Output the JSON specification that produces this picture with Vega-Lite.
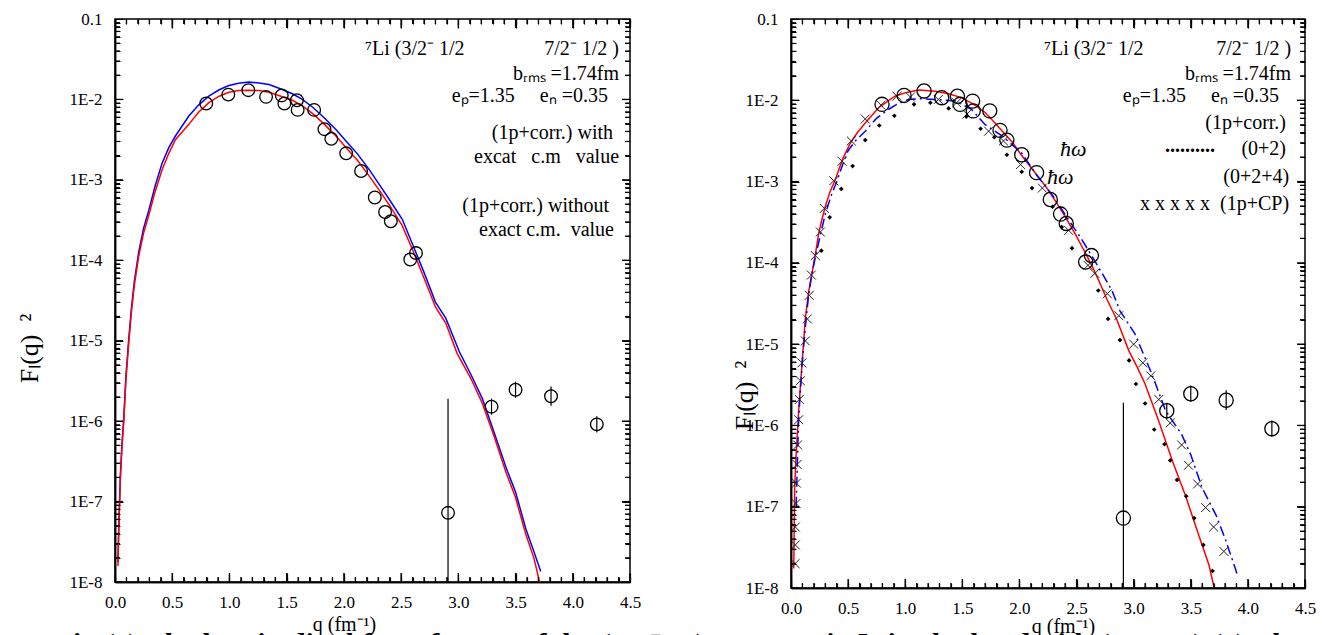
{
  "$schema": "https://vega.github.io/schema/vega-lite/v6.json",
  "padding": {"left": 15, "top": 9, "right": 0, "bottom": 0},
  "background": "white",
  "spacing": 161,
  "bounds": "flush",
  "config": {
    "view": {"stroke": "black", "strokeWidth": 1.5}
  },
  "title": {"text": "Fig.(4) The longitudinal form factors of the (7/2⁻1/2)\u00a0\u00a0\u00a0\u00a0\u00a0\u00a0\u00a0\u00a0\u00a0\u00a0\u00a0\u00a0\u00a0\u00a0\u00a0\u00a0in ⁷Li calculated with (1p+CP) (a) The", "orient": "bottom", "anchor": "start", "font": "Liberation Serif", "fontSize": 30, "fontStyle": "italic", "fontWeight": "bold", "color": "black", "offset": -7, "dx": 36, "baseline": "top"},
  "datasets": {
    "xMajor": [{"v":0},{"v":0.5},{"v":1},{"v":1.5},{"v":2},{"v":2.5},{"v":3},{"v":3.5},{"v":4},{"v":4.5}],
    "xMinor": [{"v":0.1},{"v":0.2},{"v":0.3},{"v":0.4},{"v":0.6},{"v":0.7},{"v":0.8},{"v":0.9},{"v":1.1},{"v":1.2},{"v":1.3},{"v":1.4},{"v":1.6},{"v":1.7},{"v":1.8},{"v":1.9},{"v":2.1},{"v":2.2},{"v":2.3},{"v":2.4},{"v":2.6},{"v":2.7},{"v":2.8},{"v":2.9},{"v":3.1},{"v":3.2},{"v":3.3},{"v":3.4},{"v":3.6},{"v":3.7},{"v":3.8},{"v":3.9},{"v":4.1},{"v":4.2},{"v":4.3},{"v":4.4}],
    "yMajor": [{"v":1e-8},{"v":1e-7},{"v":1e-6},{"v":1e-5},{"v":0.0001},{"v":0.001},{"v":0.01},{"v":0.1}],
    "yMinor": [{"v":2e-8},{"v":3e-8},{"v":4e-8},{"v":5e-8},{"v":6e-8},{"v":7e-8},{"v":8e-8},{"v":9e-8},{"v":2e-7},{"v":3e-7},{"v":4e-7},{"v":5e-7},{"v":6e-7},{"v":7e-7},{"v":8e-7},{"v":9e-7},{"v":2e-6},{"v":3e-6},{"v":4e-6},{"v":5e-6},{"v":6e-6},{"v":7e-6},{"v":8e-6},{"v":9e-6},{"v":2e-5},{"v":3e-5},{"v":4e-5},{"v":5e-5},{"v":6e-5},{"v":7e-5},{"v":8e-5},{"v":9e-5},{"v":0.0002},{"v":0.0003},{"v":0.0004},{"v":0.0005},{"v":0.0006},{"v":0.0007},{"v":0.0008},{"v":0.0009},{"v":0.002},{"v":0.003},{"v":0.004},{"v":0.005},{"v":0.006},{"v":0.007},{"v":0.008},{"v":0.009},{"v":0.02},{"v":0.03},{"v":0.04},{"v":0.05},{"v":0.06},{"v":0.07},{"v":0.08},{"v":0.09}],
    "leftBlue": [
      {"q":0.026,"F":1.778e-8},{"q":0.032,"F":4.571e-8},{"q":0.047,"F":2.138e-7},{"q":0.06,"F":5.012e-7},{"q":0.076,"F":1.072e-6},{"q":0.095,"F":3.548e-6},{"q":0.12,"F":1.047e-5},{"q":0.143,"F":2.512e-5},{"q":0.17,"F":5.623e-5},{"q":0.207,"F":1.259e-4},{"q":0.25,"F":2.512e-4},{"q":0.295,"F":4.169e-4},{"q":0.35,"F":8.318e-4},{"q":0.41,"F":1.585e-3},{"q":0.47,"F":2.512e-3},{"q":0.528,"F":3.508e-3},{"q":0.645,"F":6.209e-3},{"q":0.73,"F":8.511e-3},{"q":0.82,"F":1.096e-2},{"q":0.91,"F":1.318e-2},{"q":0.995,"F":1.489e-2},{"q":1.08,"F":1.585e-2},{"q":1.17,"F":1.641e-2},{"q":1.26,"F":1.603e-2},{"q":1.346,"F":1.531e-2},{"q":1.45,"F":1.349e-2},{"q":1.55,"F":1.175e-2},{"q":1.637,"F":1.0e-2},{"q":1.73,"F":7.943e-3},{"q":1.83,"F":5.888e-3},{"q":1.93,"F":4.236e-3},{"q":2.02,"F":3.020e-3},{"q":2.12,"F":2.089e-3},{"q":2.22,"F":1.349e-3},{"q":2.31,"F":8.710e-4},{"q":2.40,"F":5.623e-4},{"q":2.51,"F":3.236e-4},{"q":2.60,"F":1.585e-4},{"q":2.70,"F":7.079e-5},{"q":2.80,"F":3.020e-5},{"q":2.89,"F":1.905e-5},{"q":3.01,"F":7.244e-6},{"q":3.11,"F":3.802e-6},{"q":3.21,"F":1.905e-6},{"q":3.31,"F":7.413e-7},{"q":3.42,"F":2.570e-7},{"q":3.50,"F":1.318e-7},{"q":3.59,"F":4.571e-8},{"q":3.66,"F":2.399e-8},{"q":3.72,"F":1.349e-8}
    ],
    "leftRed": [
      {"q":0.026,"F":1.585e-8},{"q":0.032,"F":3.981e-8},{"q":0.047,"F":1.905e-7},{"q":0.06,"F":4.467e-7},{"q":0.076,"F":9.550e-7},{"q":0.095,"F":3.162e-6},{"q":0.12,"F":9.333e-6},{"q":0.143,"F":2.239e-5},{"q":0.17,"F":5.012e-5},{"q":0.207,"F":1.122e-4},{"q":0.25,"F":2.188e-4},{"q":0.295,"F":3.631e-4},{"q":0.35,"F":7.079e-4},{"q":0.41,"F":1.318e-3},{"q":0.47,"F":2.138e-3},{"q":0.528,"F":3.162e-3},{"q":0.645,"F":4.898e-3},{"q":0.73,"F":6.918e-3},{"q":0.82,"F":9.120e-3},{"q":0.91,"F":1.096e-2},{"q":0.995,"F":1.230e-2},{"q":1.08,"F":1.288e-2},{"q":1.17,"F":1.303e-2},{"q":1.26,"F":1.288e-2},{"q":1.346,"F":1.230e-2},{"q":1.45,"F":1.096e-2},{"q":1.55,"F":9.772e-3},{"q":1.637,"F":8.318e-3},{"q":1.73,"F":6.607e-3},{"q":1.83,"F":4.898e-3},{"q":1.93,"F":3.508e-3},{"q":2.02,"F":2.512e-3},{"q":2.12,"F":1.738e-3},{"q":2.22,"F":1.122e-3},{"q":2.31,"F":7.413e-4},{"q":2.40,"F":4.786e-4},{"q":2.51,"F":2.692e-4},{"q":2.60,"F":1.349e-4},{"q":2.70,"F":6.026e-5},{"q":2.80,"F":2.630e-5},{"q":2.89,"F":1.660e-5},{"q":2.99,"F":6.918e-6},{"q":3.11,"F":3.388e-6},{"q":3.21,"F":1.660e-6},{"q":3.31,"F":6.607e-7},{"q":3.42,"F":2.239e-7},{"q":3.50,"F":1.122e-7},{"q":3.59,"F":3.890e-8},{"q":3.66,"F":1.995e-8},{"q":3.71,"F":1.0e-8}
    ],
    "expt": [
      {"q":0.797,"F":8.913e-3},{"q":0.99,"F":1.148e-2},{"q":1.165,"F":1.303e-2},{"q":1.32,"F":1.076e-2},{"q":1.457,"F":1.122e-2},{"q":1.48,"F":8.913e-3},{"q":1.59,"F":9.772e-3},{"q":1.596,"F":7.413e-3},{"q":1.74,"F":7.413e-3},{"q":1.83,"F":4.266e-3},{"q":1.89,"F":3.236e-3},{"q":2.02,"F":2.138e-3},{"q":2.15,"F":1.288e-3},{"q":2.27,"F":6.026e-4},{"q":2.36,"F":3.981e-4},{"q":2.41,"F":3.055e-4},{"q":2.58,"F":1.023e-4},{"q":2.63,"F":1.230e-4},{"q":2.91,"F":7.244e-8},{"q":3.29,"F":1.514e-6},{"q":3.50,"F":2.455e-6},{"q":3.81,"F":2.042e-6},{"q":4.21,"F":9.120e-7}
    ],
    "errbars": [
      {"q":2.91,"lo":1e-8,"hi":1.9e-6},{"q":3.29,"lo":1.202e-6,"hi":1.906e-6},{"q":3.50,"lo":1.949e-6,"hi":3.091e-6},{"q":3.81,"lo":1.55e-6,"hi":2.70e-6},{"q":4.21,"lo":7.24e-7,"hi":1.148e-6}
    ],
    "rightRed": [
      {"q":0.024,"F":1.738e-8},{"q":0.028,"F":5.012e-8},{"q":0.032,"F":1.698e-7},{"q":0.045,"F":4.467e-7},{"q":0.067,"F":1.514e-6},{"q":0.096,"F":5.623e-6},{"q":0.125,"F":2.042e-5},{"q":0.155,"F":4.467e-5},{"q":0.184,"F":7.413e-5},{"q":0.215,"F":1.318e-4},{"q":0.242,"F":2.291e-4},{"q":0.27,"F":3.388e-4},{"q":0.30,"F":4.898e-4},{"q":0.34,"F":7.413e-4},{"q":0.387,"F":1.047e-3},{"q":0.45,"F":1.862e-3},{"q":0.52,"F":2.985e-3},{"q":0.58,"F":3.981e-3},{"q":0.65,"F":5.248e-3},{"q":0.768,"F":8.128e-3},{"q":0.91,"F":1.122e-2},{"q":1.02,"F":1.259e-2},{"q":1.12,"F":1.337e-2},{"q":1.264,"F":1.288e-2},{"q":1.38,"F":1.202e-2},{"q":1.497,"F":1.072e-2},{"q":1.60,"F":8.913e-3},{"q":1.70,"F":7.079e-3},{"q":1.78,"F":5.370e-3},{"q":1.85,"F":4.169e-3},{"q":1.94,"F":3.020e-3},{"q":2.02,"F":2.089e-3},{"q":2.12,"F":1.380e-3},{"q":2.23,"F":8.710e-4},{"q":2.32,"F":5.623e-4},{"q":2.40,"F":3.715e-4},{"q":2.49,"F":2.239e-4},{"q":2.58,"F":1.303e-4},{"q":2.65,"F":8.318e-5},{"q":2.72,"F":5.012e-5},{"q":2.77,"F":3.467e-5},{"q":2.85,"F":2.042e-5},{"q":2.957,"F":8.318e-6},{"q":3.03,"F":5.248e-6},{"q":3.10,"F":3.236e-6},{"q":3.22,"F":1.122e-6},{"q":3.34,"F":3.631e-7},{"q":3.45,"F":1.413e-7},{"q":3.57,"F":4.467e-8},{"q":3.66,"F":1.905e-8},{"q":3.70,"F":1.072e-8}
    ],
    "rightBlue": [
      {"q":0.045,"F":1.0e-7},{"q":0.055,"F":3.162e-7},{"q":0.065,"F":1.0e-6},{"q":0.08,"F":2.512e-6},{"q":0.10,"F":6.310e-6},{"q":0.125,"F":1.585e-5},{"q":0.15,"F":3.548e-5},{"q":0.18,"F":7.079e-5},{"q":0.21,"F":1.122e-4},{"q":0.25,"F":1.995e-4},{"q":0.30,"F":3.981e-4},{"q":0.35,"F":6.607e-4},{"q":0.40,"F":1.0e-3},{"q":0.45,"F":1.585e-3},{"q":0.50,"F":2.399e-3},{"q":0.563,"F":3.162e-3},{"q":0.65,"F":4.169e-3},{"q":0.75,"F":6.026e-3},{"q":0.855,"F":7.762e-3},{"q":0.94,"F":9.120e-3},{"q":1.03,"F":1.023e-2},{"q":1.15,"F":1.047e-2},{"q":1.264,"F":1.023e-2},{"q":1.44,"F":9.772e-3},{"q":1.58,"F":7.762e-3},{"q":1.70,"F":5.012e-3},{"q":1.85,"F":3.631e-3},{"q":2.02,"F":2.239e-3},{"q":2.14,"F":1.259e-3},{"q":2.29,"F":6.761e-4},{"q":2.43,"F":3.388e-4},{"q":2.54,"F":1.995e-4},{"q":2.64,"F":1.175e-4},{"q":2.72,"F":7.586e-5},{"q":2.81,"F":4.571e-5},{"q":2.88,"F":2.570e-5},{"q":3.01,"F":1.349e-5},{"q":3.16,"F":4.266e-6},{"q":3.28,"F":1.514e-6},{"q":3.42,"F":7.762e-7},{"q":3.50,"F":4.365e-7},{"q":3.60,"F":1.698e-7},{"q":3.72,"F":7.943e-8},{"q":3.80,"F":4.074e-8},{"q":3.89,"F":1.738e-8},{"q":3.91,"F":1.413e-8}
    ],
    "rightDots": [
      {"q":0.266,"F":1.413e-4},{"q":0.339,"F":3.631e-4},{"q":0.44,"F":8.128e-4},{"q":0.54,"F":1.549e-3},{"q":0.65,"F":3.236e-3},{"q":0.773,"F":4.898e-3},{"q":0.905,"F":6.457e-3},{"q":1.077,"F":8.913e-3},{"q":1.22,"F":9.333e-3},{"q":1.38,"F":7.943e-3},{"q":1.535,"F":6.310e-3},{"q":1.66,"F":4.467e-3},{"q":1.78,"F":3.508e-3},{"q":1.89,"F":2.138e-3},{"q":2.02,"F":1.318e-3},{"q":2.11,"F":8.318e-4},{"q":2.29,"F":4.898e-4},{"q":2.37,"F":2.754e-4},{"q":2.46,"F":1.514e-4},{"q":2.69,"F":4.571e-5},{"q":2.776,"F":2.042e-5},{"q":2.88,"F":1.122e-5},{"q":2.96,"F":6.310e-6},{"q":3.02,"F":3.236e-6},{"q":3.10,"F":1.862e-6},{"q":3.18,"F":8.913e-7},{"q":3.27,"F":5.888e-7},{"q":3.32,"F":3.715e-7},{"q":3.38,"F":2.138e-7},{"q":3.46,"F":1.349e-7},{"q":3.53,"F":7.244e-8},{"q":3.61,"F":3.388e-8},{"q":3.69,"F":1.622e-8}
    ],
    "rightX": [
      {"q":0.036,"F":1.995e-8},{"q":0.038,"F":3.388e-8},{"q":0.038,"F":5.623e-8},{"q":0.044,"F":1.096e-7},{"q":0.047,"F":1.950e-7},{"q":0.053,"F":3.311e-7},{"q":0.058,"F":5.754e-7},{"q":0.067,"F":1.175e-6},{"q":0.073,"F":2.089e-6},{"q":0.082,"F":3.548e-6},{"q":0.096,"F":5.888e-6},{"q":0.125,"F":1.096e-5},{"q":0.143,"F":2.042e-5},{"q":0.16,"F":3.981e-5},{"q":0.178,"F":7.079e-5},{"q":0.213,"F":1.230e-4},{"q":0.257,"F":2.399e-4},{"q":0.292,"F":4.677e-4},{"q":0.374,"F":1.023e-3},{"q":0.447,"F":1.778e-3},{"q":0.528,"F":3.162e-3},{"q":0.65,"F":5.888e-3},{"q":0.788,"F":8.710e-3},{"q":0.928,"F":1.122e-2},{"q":1.045,"F":1.096e-2},{"q":1.29,"F":1.023e-2},{"q":1.45,"F":9.333e-3},{"q":1.54,"F":6.761e-3},{"q":1.73,"F":4.169e-3},{"q":1.86,"F":3.162e-3},{"q":2.01,"F":1.622e-3},{"q":2.20,"F":8.318e-4},{"q":2.43,"F":2.512e-4},{"q":2.60,"F":9.333e-5},{"q":2.66,"F":7.413e-5},{"q":2.77,"F":4.169e-5},{"q":2.87,"F":2.239e-5},{"q":3.0,"F":1.0e-5},{"q":3.08,"F":5.888e-6},{"q":3.15,"F":4.074e-6},{"q":3.22,"F":2.089e-6},{"q":3.32,"F":1.072e-6},{"q":3.42,"F":5.754e-7},{"q":3.48,"F":3.236e-7},{"q":3.56,"F":1.905e-7},{"q":3.63,"F":9.772e-8},{"q":3.70,"F":5.623e-8},{"q":3.79,"F":2.818e-8}
    ]
  },
  "hconcat": [
    {
      "width": 515,
      "height": 563,
      "layer": [
        {
          "data": {"name": "leftBlue"},
          "mark": {"type": "line", "color": "#0000ff", "strokeWidth": 1.5},
          "encoding": {
            "x": {"field": "q", "type": "quantitative", "scale": {"domain": [0, 4.5], "nice": false, "zero": false},
              "axis": {"orient": "bottom", "values": [0,0.1,0.2,0.3,0.4,0.5,0.6,0.7,0.8,0.9,1,1.1,1.2,1.3,1.4,1.5,1.6,1.7,1.8,1.9,2,2.1,2.2,2.3,2.4,2.5,2.6,2.7,2.8,2.9,3,3.1,3.2,3.3,3.4,3.5,3.6,3.7,3.8,3.9,4,4.1,4.2,4.3,4.4,4.5],
                "labelExpr": "abs(datum.value*2-round(datum.value*2))<0.01 ? format(datum.value,'.1f') : ''",
                "labelOverlap": false, "labelFlush": false, "labelBound": false, "labelFont": "Liberation Sans Narrow", "labelFontSize": 17, "labelColor": "black", "labelPadding": 12,
                "domainColor": "black", "domainWidth": 1.5, "ticks": false, "grid": true, "gridColor": "black", "gridWidth": 1.2, "gridOpacity": 1, "gridDash": [5, 553],
                "title": "q (fm⁻¹)", "titleFont": "Liberation Serif", "titleFontSize": 20, "titleFontWeight": "normal", "titleColor": "black", "titleX": 229, "titleY": 48, "titleBaseline": "alphabetic", "titleAngle": 0}},
            "y": {"field": "F", "type": "quantitative", "scale": {"type": "log", "domain": [1e-8, 0.1], "nice": false},
              "axis": {"orient": "left", "values": [1e-8,2e-8,3e-8,4e-8,5e-8,6e-8,7e-8,8e-8,9e-8,1e-7,2e-7,3e-7,4e-7,5e-7,6e-7,7e-7,8e-7,9e-7,1e-6,2e-6,3e-6,4e-6,5e-6,6e-6,7e-6,8e-6,9e-6,1e-5,2e-5,3e-5,4e-5,5e-5,6e-5,7e-5,8e-5,9e-5,0.0001,0.0002,0.0003,0.0004,0.0005,0.0006,0.0007,0.0008,0.0009,0.001,0.002,0.003,0.004,0.005,0.006,0.007,0.008,0.009,0.01,0.02,0.03,0.04,0.05,0.06,0.07,0.08,0.09,0.1],
                "labelExpr": "abs(log(datum.value)/LN10-round(log(datum.value)/LN10))<0.001 ? (datum.value > 0.05 ? '0.1' : '1E' + round(log(datum.value)/LN10)) : ''",
                "labelOverlap": false, "labelFlush": false, "labelBound": false, "labelFont": "Liberation Sans Narrow", "labelFontSize": 17, "labelColor": "black", "labelPadding": 13,
                "domainColor": "black", "domainWidth": 1.5, "ticks": false, "grid": true, "gridColor": "black", "gridWidth": 1.2, "gridOpacity": 1, "gridDash": [5, 505],
                "title": "Fₗ(q)\u00a0\u00a0²", "titleFont": "Liberation Serif", "titleFontSize": 26, "titleFontWeight": "normal", "titleColor": "black", "titleX": -86, "titleY": 329, "titleBaseline": "middle", "titleAngle": 270}}
          }
        },
        {
          "data": {"name": "leftRed"},
          "mark": {"type": "line", "color": "#ff0000", "strokeWidth": 1.5},
          "encoding": {"x": {"field": "q", "type": "quantitative", "axis": null}, "y": {"field": "F", "type": "quantitative", "axis": null}}
        },
        {
          "data": {"name": "errbars"},
          "mark": {"type": "rule", "color": "black", "strokeWidth": 1.2},
          "encoding": {"x": {"field": "q", "type": "quantitative", "axis": null}, "y": {"field": "lo", "type": "quantitative", "axis": null}, "y2": {"field": "hi"}}
        },
        {
          "data": {"name": "expt"},
          "mark": {"type": "point", "shape": "circle", "filled": false, "color": "black", "strokeWidth": 1.3, "size": 160, "opacity": 1},
          "encoding": {"x": {"field": "q", "type": "quantitative", "axis": null}, "y": {"field": "F", "type": "quantitative", "axis": null}}
        },
        {
          "data": {"values": [{"q": 2.185, "F": 4.236e-2, "t": "⁷Li (3/2⁻ 1/2"}]},
          "mark": {"type": "text", "align": "left", "baseline": "middle", "font": "Liberation Serif", "fontSize": 20, "color": "black"},
          "encoding": {"x": {"field": "q", "type": "quantitative", "axis": null}, "y": {"field": "F", "type": "quantitative", "axis": null}, "text": {"field": "t"}}
        },
        {
          "data": {"values": [
            {"q": 4.404, "F": 4.236e-2, "t": "7/2⁻ 1/2 )"},
            {"q": 4.404, "F": 2.070e-2, "t": "bᵣₘₛ =1.74fm"},
            {"q": 4.308, "F": 1.104e-2, "t": "eₚ=1.35\u00a0\u00a0\u00a0\u00a0\u00a0eₙ =0.35"},
            {"q": 4.352, "F": 3.828e-3, "t": "(1p+corr.) with"},
            {"q": 4.404, "F": 1.923e-3, "t": "excat\u00a0\u00a0\u00a0c.m\u00a0\u00a0\u00a0value"},
            {"q": 4.317, "F": 4.73e-4, "t": "(1p+corr.) without"},
            {"q": 4.36, "F": 2.382e-4, "t": "exact c.m.\u00a0\u00a0value"}
          ]},
          "mark": {"type": "text", "align": "right", "baseline": "middle", "font": "Liberation Serif", "fontSize": 20, "color": "black"},
          "encoding": {"x": {"field": "q", "type": "quantitative", "axis": null}, "y": {"field": "F", "type": "quantitative", "axis": null}, "text": {"field": "t"}}
        },
        {
          "data": {"name": "xMajor"},
          "mark": {"type": "tick", "orient": "vertical", "size": 18, "thickness": 1.3, "color": "black", "opacity": 1, "clip": true},
          "encoding": {"x": {"field": "v", "type": "quantitative", "axis": null}, "y": {"datum": 1e-8, "type": "quantitative", "axis": null}}
        },
        {
          "data": {"name": "xMajor"},
          "mark": {"type": "tick", "orient": "vertical", "size": 18, "thickness": 1.3, "color": "black", "opacity": 1, "clip": true},
          "encoding": {"x": {"field": "v", "type": "quantitative", "axis": null}, "y": {"datum": 0.1, "type": "quantitative", "axis": null}}
        },
        {
          "data": {"name": "xMinor"},
          "mark": {"type": "tick", "orient": "vertical", "size": 10, "thickness": 1.2, "color": "black", "opacity": 1, "clip": true},
          "encoding": {"x": {"field": "v", "type": "quantitative", "axis": null}, "y": {"datum": 1e-8, "type": "quantitative", "axis": null}}
        },
        {
          "data": {"name": "xMinor"},
          "mark": {"type": "tick", "orient": "vertical", "size": 10, "thickness": 1.2, "color": "black", "opacity": 1, "clip": true},
          "encoding": {"x": {"field": "v", "type": "quantitative", "axis": null}, "y": {"datum": 0.1, "type": "quantitative", "axis": null}}
        },
        {
          "data": {"name": "yMajor"},
          "mark": {"type": "tick", "orient": "horizontal", "size": 16, "thickness": 1.3, "color": "black", "opacity": 1, "clip": true},
          "encoding": {"y": {"field": "v", "type": "quantitative", "axis": null}, "x": {"datum": 0, "type": "quantitative", "axis": null}}
        },
        {
          "data": {"name": "yMajor"},
          "mark": {"type": "tick", "orient": "horizontal", "size": 16, "thickness": 1.3, "color": "black", "opacity": 1, "clip": true},
          "encoding": {"y": {"field": "v", "type": "quantitative", "axis": null}, "x": {"datum": 4.5, "type": "quantitative", "axis": null}}
        },
        {
          "data": {"name": "yMinor"},
          "mark": {"type": "tick", "orient": "horizontal", "size": 10, "thickness": 1.2, "color": "black", "opacity": 1, "clip": true},
          "encoding": {"y": {"field": "v", "type": "quantitative", "axis": null}, "x": {"datum": 0, "type": "quantitative", "axis": null}}
        },
        {
          "data": {"name": "yMinor"},
          "mark": {"type": "tick", "orient": "horizontal", "size": 10, "thickness": 1.2, "color": "black", "opacity": 1, "clip": true},
          "encoding": {"y": {"field": "v", "type": "quantitative", "axis": null}, "x": {"datum": 4.5, "type": "quantitative", "axis": null}}
        },
        {
          "data": {"name": "leftBlue"},
          "mark": {"type": "point", "opacity": 0},
          "encoding": {
            "x": {"field": "q", "type": "quantitative", "axis": {"orient": "bottom", "values": [0,0.5,1,1.5,2,2.5,3,3.5,4,4.5], "labels": false, "ticks": false, "title": null, "domainColor": "black", "domainWidth": 1.5, "grid": true, "gridColor": "black", "gridWidth": 1.2, "gridOpacity": 1, "gridDash": [9, 545]}},
            "y": {"field": "F", "type": "quantitative", "axis": {"orient": "left", "values": [1e-8,1e-7,1e-6,1e-5,0.0001,0.001,0.01,0.1], "labels": false, "ticks": false, "title": null, "domainColor": "black", "domainWidth": 1.5, "grid": true, "gridColor": "black", "gridWidth": 1.2, "gridOpacity": 1, "gridDash": [8, 499]}}
          }
        }
      ],
      "resolve": {"axis": {"x": "independent", "y": "independent"}}
    },
    {
      "width": 514,
      "height": 569,
      "layer": [
        {
          "data": {"name": "rightRed"},
          "mark": {"type": "line", "color": "#ff0000", "strokeWidth": 1.5},
          "encoding": {
            "x": {"field": "q", "type": "quantitative", "scale": {"domain": [0, 4.5], "nice": false, "zero": false},
              "axis": {"orient": "bottom", "values": [0,0.1,0.2,0.3,0.4,0.5,0.6,0.7,0.8,0.9,1,1.1,1.2,1.3,1.4,1.5,1.6,1.7,1.8,1.9,2,2.1,2.2,2.3,2.4,2.5,2.6,2.7,2.8,2.9,3,3.1,3.2,3.3,3.4,3.5,3.6,3.7,3.8,3.9,4,4.1,4.2,4.3,4.4,4.5],
                "labelExpr": "abs(datum.value*2-round(datum.value*2))<0.01 ? format(datum.value,'.1f') : ''",
                "labelOverlap": false, "labelFlush": false, "labelBound": false, "labelFont": "Liberation Sans Narrow", "labelFontSize": 17, "labelColor": "black", "labelPadding": 12,
                "domainColor": "black", "domainWidth": 1.5, "ticks": false, "grid": true, "gridColor": "black", "gridWidth": 1.2, "gridOpacity": 1, "gridDash": [5, 559],
                "title": "q (fm⁻¹)", "titleFont": "Liberation Serif", "titleFontSize": 20, "titleFontWeight": "normal", "titleColor": "black", "titleX": 272, "titleY": 44, "titleBaseline": "alphabetic", "titleAngle": 0}},
            "y": {"field": "F", "type": "quantitative", "scale": {"type": "log", "domain": [1e-8, 0.1], "nice": false},
              "axis": {"orient": "left", "values": [1e-8,2e-8,3e-8,4e-8,5e-8,6e-8,7e-8,8e-8,9e-8,1e-7,2e-7,3e-7,4e-7,5e-7,6e-7,7e-7,8e-7,9e-7,1e-6,2e-6,3e-6,4e-6,5e-6,6e-6,7e-6,8e-6,9e-6,1e-5,2e-5,3e-5,4e-5,5e-5,6e-5,7e-5,8e-5,9e-5,0.0001,0.0002,0.0003,0.0004,0.0005,0.0006,0.0007,0.0008,0.0009,0.001,0.002,0.003,0.004,0.005,0.006,0.007,0.008,0.009,0.01,0.02,0.03,0.04,0.05,0.06,0.07,0.08,0.09,0.1],
                "labelExpr": "abs(log(datum.value)/LN10-round(log(datum.value)/LN10))<0.001 ? (datum.value > 0.05 ? '0.1' : '1E' + round(log(datum.value)/LN10)) : ''",
                "labelOverlap": false, "labelFlush": false, "labelBound": false, "labelFont": "Liberation Sans Narrow", "labelFontSize": 17, "labelColor": "black", "labelPadding": 13,
                "domainColor": "black", "domainWidth": 1.5, "ticks": false, "grid": true, "gridColor": "black", "gridWidth": 1.2, "gridOpacity": 1, "gridDash": [5, 504],
                "title": "Fₗ(q)\u00a0\u00a0²", "titleFont": "Liberation Serif", "titleFontSize": 26, "titleFontWeight": "normal", "titleColor": "black", "titleX": -47, "titleY": 376, "titleBaseline": "middle", "titleAngle": 270}}
          }
        },
        {
          "data": {"name": "rightBlue"},
          "mark": {"type": "line", "color": "#0000ff", "strokeWidth": 1.5, "strokeDash": [10, 4, 2, 4]},
          "encoding": {"x": {"field": "q", "type": "quantitative", "axis": null}, "y": {"field": "F", "type": "quantitative", "axis": null}}
        },
        {
          "data": {"name": "rightX"},
          "mark": {"type": "point", "shape": "M-1,-1L1,1M1,-1L-1,1", "filled": false, "color": "#222222", "strokeWidth": 1, "size": 80, "opacity": 1},
          "encoding": {"x": {"field": "q", "type": "quantitative", "axis": null}, "y": {"field": "F", "type": "quantitative", "axis": null}}
        },
        {
          "data": {"name": "rightDots"},
          "mark": {"type": "point", "shape": "diamond", "filled": true, "color": "black", "size": 22, "opacity": 1},
          "encoding": {"x": {"field": "q", "type": "quantitative", "axis": null}, "y": {"field": "F", "type": "quantitative", "axis": null}}
        },
        {
          "data": {"name": "errbars"},
          "mark": {"type": "rule", "color": "black", "strokeWidth": 1.2},
          "encoding": {"x": {"field": "q", "type": "quantitative", "axis": null}, "y": {"field": "lo", "type": "quantitative", "axis": null}, "y2": {"field": "hi"}}
        },
        {
          "data": {"name": "expt"},
          "mark": {"type": "point", "shape": "circle", "filled": false, "color": "black", "strokeWidth": 1.3, "size": 200, "opacity": 1},
          "encoding": {"x": {"field": "q", "type": "quantitative", "axis": null}, "y": {"field": "F", "type": "quantitative", "axis": null}}
        },
        {
          "data": {"values": [{"q": 2.215, "F": 4.276e-2, "t": "⁷Li (3/2⁻ 1/2"}]},
          "mark": {"type": "text", "align": "left", "baseline": "middle", "font": "Liberation Serif", "fontSize": 20, "color": "black"},
          "encoding": {"x": {"field": "q", "type": "quantitative", "axis": null}, "y": {"field": "F", "type": "quantitative", "axis": null}, "text": {"field": "t"}}
        },
        {
          "data": {"values": [
            {"q": 4.378, "F": 4.276e-2, "t": "7/2⁻ 1/2 )"},
            {"q": 4.378, "F": 2.104e-2, "t": "bᵣₘₛ =1.74fm"},
            {"q": 4.273, "F": 1.130e-2, "t": "eₚ=1.35\u00a0\u00a0\u00a0\u00a0\u00a0eₙ =0.35"},
            {"q": 4.334, "F": 5.26e-3, "t": "(1p+corr.)"},
            {"q": 4.334, "F": 2.518e-3, "t": "(0+2)"},
            {"q": 4.361, "F": 1.138e-3, "t": "(0+2+4)"},
            {"q": 4.361, "F": 5.30e-4, "t": "x x x x x\u00a0\u00a0(1p+CP)"}
          ]},
          "mark": {"type": "text", "align": "right", "baseline": "middle", "font": "Liberation Serif", "fontSize": 20, "color": "black"},
          "encoding": {"x": {"field": "q", "type": "quantitative", "axis": null}, "y": {"field": "F", "type": "quantitative", "axis": null}, "text": {"field": "t"}}
        },
        {
          "data": {"values": [{"q": 2.355, "F": 2.518e-3, "t": "ħω"}, {"q": 2.242, "F": 1.138e-3, "t": "ħω"}]},
          "mark": {"type": "text", "align": "left", "baseline": "middle", "font": "Liberation Serif", "fontSize": 22, "fontStyle": "italic", "color": "black"},
          "encoding": {"x": {"field": "q", "type": "quantitative", "axis": null}, "y": {"field": "F", "type": "quantitative", "axis": null}, "text": {"field": "t"}}
        },
        {
          "data": {"values": [{"q": 3.275, "F": 2.312e-3, "t": ".........."}]},
          "mark": {"type": "text", "align": "left", "baseline": "alphabetic", "font": "Liberation Serif", "fontSize": 20, "fontWeight": "bold", "color": "black"},
          "encoding": {"x": {"field": "q", "type": "quantitative", "axis": null}, "y": {"field": "F", "type": "quantitative", "axis": null}, "text": {"field": "t"}}
        },
        {
          "data": {"name": "xMajor"},
          "mark": {"type": "tick", "orient": "vertical", "size": 18, "thickness": 1.3, "color": "black", "opacity": 1, "clip": true},
          "encoding": {"x": {"field": "v", "type": "quantitative", "axis": null}, "y": {"datum": 1e-8, "type": "quantitative", "axis": null}}
        },
        {
          "data": {"name": "xMajor"},
          "mark": {"type": "tick", "orient": "vertical", "size": 18, "thickness": 1.3, "color": "black", "opacity": 1, "clip": true},
          "encoding": {"x": {"field": "v", "type": "quantitative", "axis": null}, "y": {"datum": 0.1, "type": "quantitative", "axis": null}}
        },
        {
          "data": {"name": "xMinor"},
          "mark": {"type": "tick", "orient": "vertical", "size": 10, "thickness": 1.2, "color": "black", "opacity": 1, "clip": true},
          "encoding": {"x": {"field": "v", "type": "quantitative", "axis": null}, "y": {"datum": 1e-8, "type": "quantitative", "axis": null}}
        },
        {
          "data": {"name": "xMinor"},
          "mark": {"type": "tick", "orient": "vertical", "size": 10, "thickness": 1.2, "color": "black", "opacity": 1, "clip": true},
          "encoding": {"x": {"field": "v", "type": "quantitative", "axis": null}, "y": {"datum": 0.1, "type": "quantitative", "axis": null}}
        },
        {
          "data": {"name": "yMajor"},
          "mark": {"type": "tick", "orient": "horizontal", "size": 16, "thickness": 1.3, "color": "black", "opacity": 1, "clip": true},
          "encoding": {"y": {"field": "v", "type": "quantitative", "axis": null}, "x": {"datum": 0, "type": "quantitative", "axis": null}}
        },
        {
          "data": {"name": "yMajor"},
          "mark": {"type": "tick", "orient": "horizontal", "size": 16, "thickness": 1.3, "color": "black", "opacity": 1, "clip": true},
          "encoding": {"y": {"field": "v", "type": "quantitative", "axis": null}, "x": {"datum": 4.5, "type": "quantitative", "axis": null}}
        },
        {
          "data": {"name": "yMinor"},
          "mark": {"type": "tick", "orient": "horizontal", "size": 10, "thickness": 1.2, "color": "black", "opacity": 1, "clip": true},
          "encoding": {"y": {"field": "v", "type": "quantitative", "axis": null}, "x": {"datum": 0, "type": "quantitative", "axis": null}}
        },
        {
          "data": {"name": "yMinor"},
          "mark": {"type": "tick", "orient": "horizontal", "size": 10, "thickness": 1.2, "color": "black", "opacity": 1, "clip": true},
          "encoding": {"y": {"field": "v", "type": "quantitative", "axis": null}, "x": {"datum": 4.5, "type": "quantitative", "axis": null}}
        },
        {
          "data": {"name": "rightRed"},
          "mark": {"type": "point", "opacity": 0},
          "encoding": {
            "x": {"field": "q", "type": "quantitative", "axis": {"orient": "bottom", "values": [0,0.5,1,1.5,2,2.5,3,3.5,4,4.5], "labels": false, "ticks": false, "title": null, "domainColor": "black", "domainWidth": 1.5, "grid": true, "gridColor": "black", "gridWidth": 1.2, "gridOpacity": 1, "gridDash": [9, 551]}},
            "y": {"field": "F", "type": "quantitative", "axis": {"orient": "left", "values": [1e-8,1e-7,1e-6,1e-5,0.0001,0.001,0.01,0.1], "labels": false, "ticks": false, "title": null, "domainColor": "black", "domainWidth": 1.5, "grid": true, "gridColor": "black", "gridWidth": 1.2, "gridOpacity": 1, "gridDash": [8, 498]}}
          }
        }
      ],
      "resolve": {"axis": {"x": "independent", "y": "independent"}}
    }
  ]
}
